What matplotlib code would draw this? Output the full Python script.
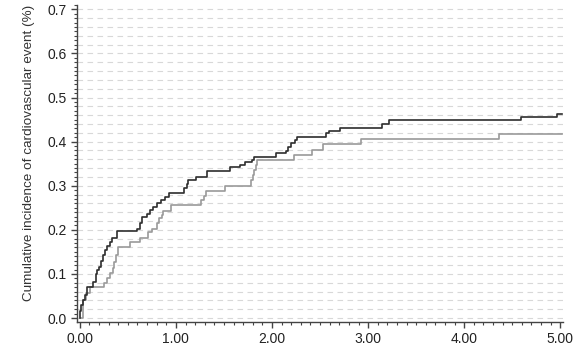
import numpy as np
import matplotlib
matplotlib.use('Agg')
import matplotlib.pyplot as plt
from matplotlib.ticker import MultipleLocator, FormatStrFormatter

plt.rcParams['font.family'] = ['Liberation Sans', 'DejaVu Sans']

# Step points (time, cumulative incidence) for the two groups
t_dark = [0.0, 0.005, 0.01, 0.03, 0.05, 0.07, 0.14, 0.165, 0.18, 0.20, 0.22,
          0.24, 0.265, 0.28, 0.31, 0.33, 0.39, 0.60, 0.625, 0.645, 0.70,
          0.735, 0.765, 0.805, 0.84, 0.885, 0.93, 1.08, 1.11, 1.13, 1.21,
          1.32, 1.56, 1.67, 1.72, 1.79, 1.81, 2.04, 2.15, 2.17, 2.20, 2.24,
          2.26, 2.56, 2.59, 2.71, 3.14, 3.22, 4.59, 4.97, 5.02]
v_dark = [0.0, 0.015, 0.03, 0.042, 0.052, 0.07, 0.082, 0.10, 0.109, 0.116,
          0.13, 0.143, 0.154, 0.163, 0.173, 0.182, 0.197, 0.203, 0.215, 0.23,
          0.237, 0.245, 0.252, 0.26, 0.268, 0.275, 0.283, 0.294, 0.305, 0.313,
          0.32, 0.334, 0.342, 0.347, 0.354, 0.358, 0.366, 0.374, 0.379, 0.388,
          0.396, 0.404, 0.41, 0.419, 0.425, 0.432, 0.441, 0.448, 0.456, 0.463,
          0.463]

t_light = [0.01, 0.035, 0.06, 0.11, 0.25, 0.28, 0.31, 0.34, 0.36, 0.38, 0.40,
           0.52, 0.625, 0.71, 0.75, 0.80, 0.82, 0.85, 0.87, 0.95, 1.26, 1.29,
           1.31, 1.51, 1.78, 1.80, 1.81, 1.83, 1.84, 2.23, 2.42, 2.53, 2.93,
           4.36, 5.02]
v_light = [0.0, 0.041, 0.056, 0.07, 0.079, 0.09, 0.101, 0.113, 0.128, 0.143,
           0.162, 0.173, 0.181, 0.196, 0.203, 0.216, 0.226, 0.234, 0.243, 0.256,
           0.268, 0.276, 0.289, 0.30, 0.313, 0.324, 0.336, 0.347, 0.358, 0.37,
           0.381, 0.394, 0.405, 0.417, 0.417]

fig = plt.figure(figsize=(5.83, 3.5), dpi=100)
ax = fig.add_axes([0.132, 0.08, 0.834, 0.906])

# dashed reference lines every 0.02
for y in np.arange(0.0, 0.701, 0.02):
    ax.axhline(y, color='#d8d8d8', lw=0.8, ls=(0, (5, 4)), zorder=0)

ax.step(t_light, v_light, where='post', color='#9a9a9a', lw=1.2)
ax.step(t_dark, v_dark, where='post', color='#2e2e2e', lw=1.2)

ax.set_xlim(-0.03, 5.03)
ax.set_ylim(-0.009, 0.71)
ax.xaxis.set_major_locator(MultipleLocator(1.0))
ax.xaxis.set_minor_locator(MultipleLocator(0.1))
ax.yaxis.set_major_locator(MultipleLocator(0.1))
ax.yaxis.set_minor_locator(MultipleLocator(0.01))
ax.xaxis.set_major_formatter(FormatStrFormatter('%.2f'))
ax.yaxis.set_major_formatter(FormatStrFormatter('%.1f'))

for side in ('top', 'right'):
    ax.spines[side].set_visible(False)
for side in ('left', 'bottom'):
    ax.spines[side].set_color('#444444')
    ax.spines[side].set_linewidth(1.0)

ax.tick_params(which='major', length=4, width=1.0, color='#444444',
               labelsize=10, labelcolor='#222222')
ax.tick_params(which='minor', length=2.5, width=0.8, color='#444444')
ax.set_ylabel('Cumulative incidence of cardiovascular event (%)',
              fontsize=9.7, color='#333333')
ax.yaxis.set_label_coords(-0.086, 0.533)

fig.savefig('out.png', dpi=100)
